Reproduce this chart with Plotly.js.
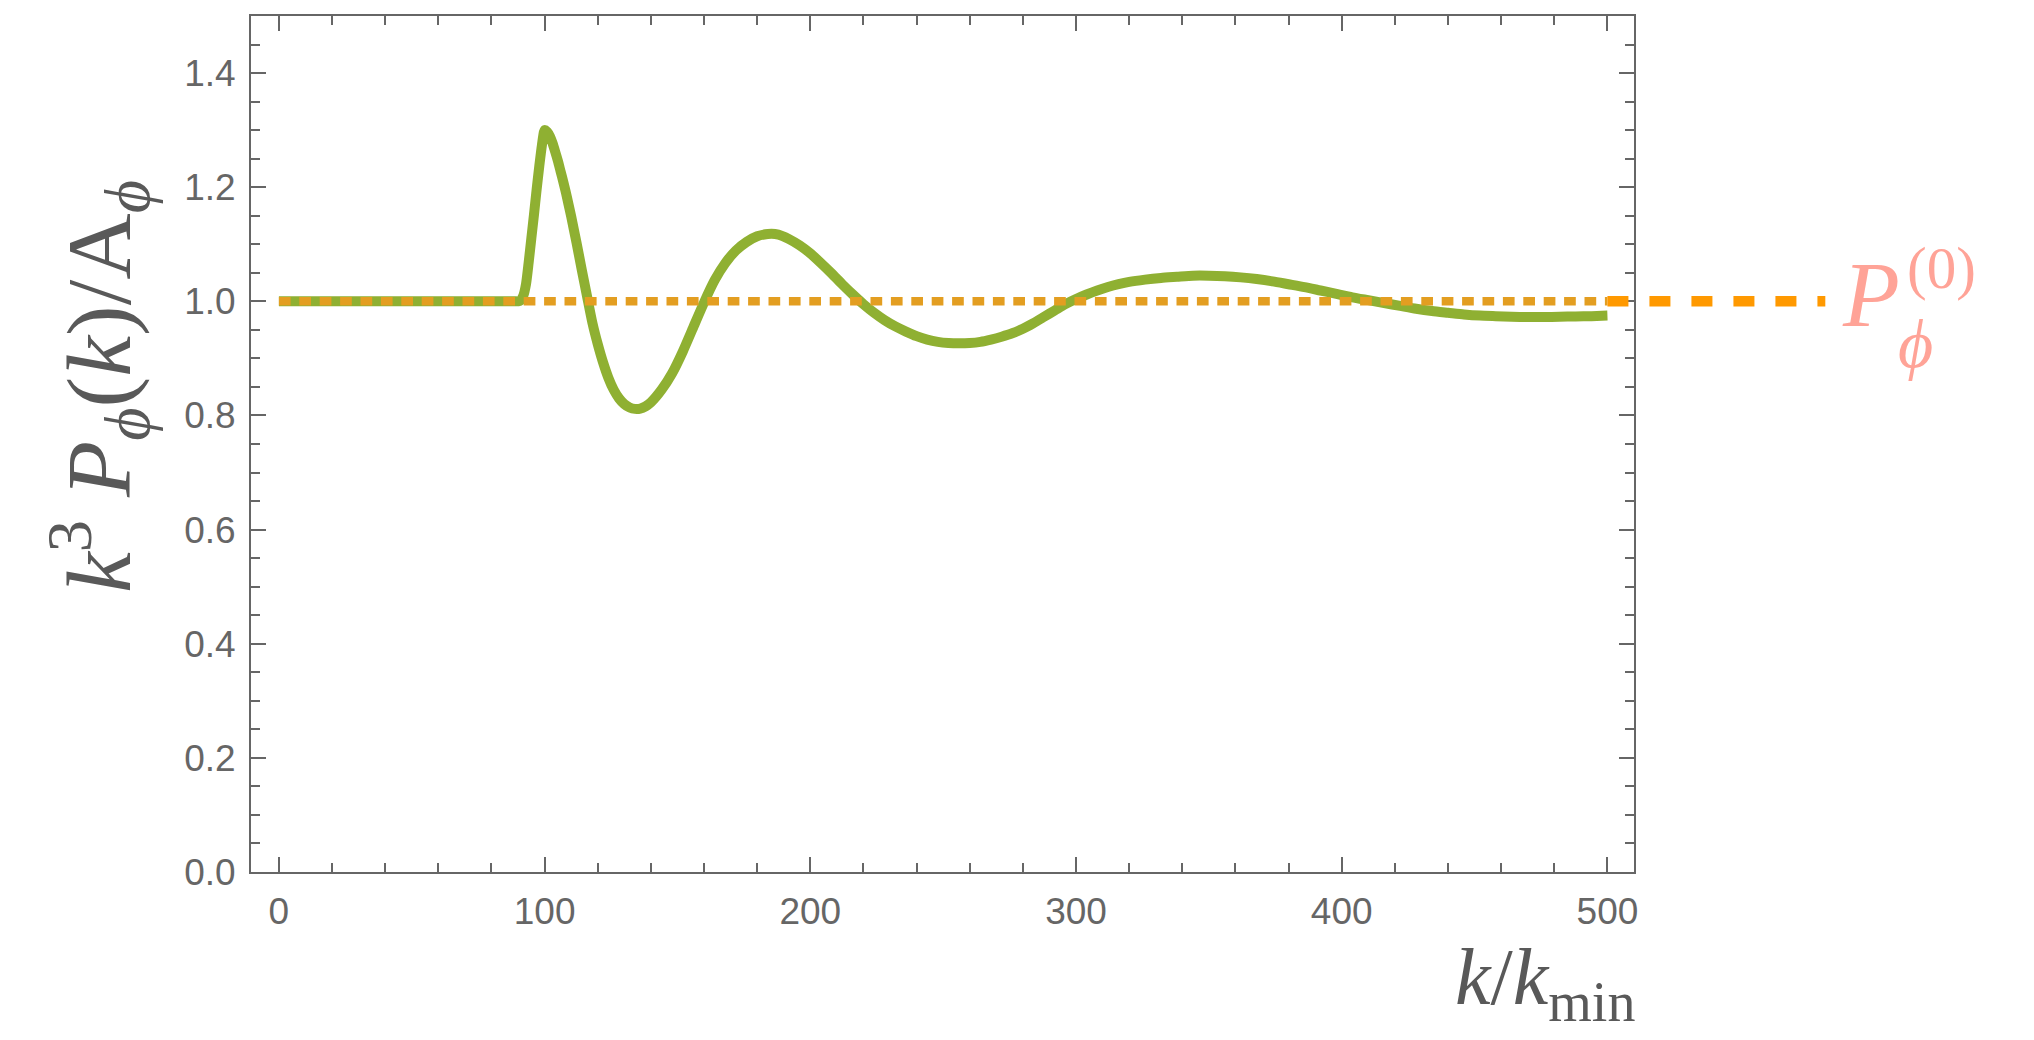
<!DOCTYPE html>
<html>
<head>
<meta charset="utf-8">
<script src="https://cdn.plot.ly/plotly-3.0.1.min.js"></script>
<style>html,body{margin:0;padding:0;background:#fff;}#chart{width:2034px;height:1040px;}</style>
</head>
<body>
<div id="chart"></div>
<script>
// ---- data ----
const kVals = [0, 30, 60, 80, 86, 89, 90, 91, 92, 93, 94, 95, 96, 97, 98, 99, 100,
  101, 102, 103, 104, 105, 106, 107, 108, 109, 110, 111, 112, 114, 116, 118, 120,
  122, 124, 126, 128, 130, 132, 134, 136, 138, 140, 144, 148, 152, 156, 160,
  164, 168, 172, 176, 180, 184, 188, 192, 196, 200, 204, 208, 212, 216, 220,
  224, 228, 232, 236, 240, 244, 248, 252, 256, 260, 264, 268, 272, 276, 280,
  284, 288, 292, 296, 300, 304, 308, 312, 316, 320, 326, 332, 338, 344, 350,
  356, 362, 368, 374, 380, 386, 392, 398, 404, 410, 416, 422, 428, 434, 440,
  446, 452, 458, 464, 470, 476, 482, 488, 494, 500];
const pVals = [1.000, 1.000, 1.000, 1.000, 1.000, 1.000, 1.000, 1.002, 1.010, 1.030, 1.068, 1.110, 1.152, 1.196, 1.237, 1.274, 1.300,
  1.297, 1.289, 1.277, 1.262, 1.246, 1.228, 1.210, 1.191, 1.170, 1.149, 1.126, 1.103, 1.055, 1.008, 0.962, 0.925,
  0.893, 0.866, 0.845, 0.830, 0.820, 0.814, 0.8115, 0.812, 0.816, 0.823, 0.845, 0.874, 0.912, 0.955, 0.998,
  1.037, 1.067, 1.089, 1.104, 1.114, 1.118, 1.117, 1.109, 1.098, 1.084, 1.067, 1.049, 1.030, 1.012, 0.995,
  0.980, 0.967, 0.956, 0.947, 0.939, 0.933, 0.929, 0.927, 0.9265, 0.927, 0.929, 0.933, 0.938, 0.944, 0.952,
  0.962, 0.973, 0.984, 0.995, 1.004, 1.012, 1.019, 1.025, 1.030, 1.034, 1.038, 1.041, 1.043, 1.045, 1.045,
  1.044, 1.042, 1.039, 1.035, 1.030, 1.025, 1.019, 1.013, 1.007, 1.002, 0.997, 0.992, 0.987, 0.983, 0.980,
  0.977, 0.975, 0.974, 0.973, 0.9725, 0.9725, 0.973, 0.9735, 0.974, 0.975];
const refK = [0, 500];      // P_phi^(0) reference level inside the frame
const refP = [1, 1];
const extK = [500, 582];    // its extension out to the label
const extP = [1, 1];
const xTickVals = [0, 100, 200, 300, 400, 500];
const yTickVals = [0.0, 0.2, 0.4, 0.6, 0.8, 1.0, 1.2, 1.4];

// ---- geometry ----
const W = 2034, H = 1040;
const M = {l: 251, r: 194, t: 16, b: 168};
const paperW = W - M.l - M.r, paperH = H - M.t - M.b;
const frameRight = 1634;
const xDomEnd = (frameRight - M.l) / paperW;
const xRange = [-10.5, 510];
const x2Range = [xRange[0], xRange[0] + (xRange[1] - xRange[0]) / xDomEnd];
const px = v => (v - M.l) / paperW;
const py = v => (H - M.b - v) / paperH;

const axisGray = '#666666';
const tickFont = {family: 'Liberation Sans, Arial, sans-serif', size: 37, color: '#666666'};
const titleColor = '#595959';
const serif = 'Liberation Serif, DejaVu Serif, Times New Roman, serif';
const phi = '\u03D5';

const common = {
  showline: true, linecolor: axisGray, linewidth: 2, mirror: 'ticks',
  ticks: 'inside', ticklen: 15, tickwidth: 2, tickcolor: axisGray,
  showgrid: false, zeroline: false, tickfont: tickFont
};

const traces = [
  {x: kVals, y: pVals, type: 'scatter', mode: 'lines', xaxis: 'x', yaxis: 'y',
   line: {color: '#8FB032', width: 10, shape: 'spline', smoothing: 0.6}, hoverinfo: 'skip'},
  {x: refK, y: refP, type: 'scatter', mode: 'lines', xaxis: 'x', yaxis: 'y',
   line: {color: '#E39E21', width: 8.5, dash: '11.7px,8.7px'}, hoverinfo: 'skip'},
  {x: extK, y: extP, type: 'scatter', mode: 'lines', xaxis: 'x2', yaxis: 'y',
   line: {color: '#FF9900', width: 10.5, dash: '21px,21px'}, hoverinfo: 'skip'}
];

const layout = {
  width: W, height: H, margin: M,
  paper_bgcolor: '#ffffff', plot_bgcolor: 'rgba(0,0,0,0)',
  showlegend: false,
  xaxis: Object.assign({}, common, {
    domain: [0, xDomEnd], range: xRange, anchor: 'y',
    tickvals: xTickVals, ticktext: xTickVals.map(String),
    minor: {ticks: 'inside', dtick: 20, tick0: 0, ticklen: 9, tickwidth: 2, tickcolor: axisGray, showgrid: false},
    ticklabelstandoff: 6
  }),
  xaxis2: {domain: [0, 1], range: x2Range, anchor: 'y', visible: false, showgrid: false, zeroline: false},
  yaxis: Object.assign({}, common, {
    domain: [0, 1], range: [0, 1.5], anchor: 'x',
    tickvals: yTickVals, ticktext: yTickVals.map(v => v.toFixed(1)),
    minor: {ticks: 'inside', dtick: 0.05, tick0: 0, ticklen: 9, tickwidth: 2, tickcolor: axisGray, showgrid: false},
    ticklabelstandoff: 6
  }),
  annotations: [
    {xref: 'paper', yref: 'paper', x: px(98), y: py(387), xanchor: 'center', yanchor: 'middle',
     textangle: -90, showarrow: false,
     text: '<i>k</i><sup>3</sup> <i>P</i><sub><i>' + phi + '</i></sub>(<i>k</i>)/A<sub><i>' + phi + '</i></sub>',
     font: {family: serif, size: 92, color: titleColor}},
    {xref: 'paper', yref: 'paper', x: px(1453), y: py(983), xanchor: 'left', yanchor: 'middle',
     showarrow: false, text: '<i>k</i>/<i>k</i><sub>min</sub>',
     font: {family: serif, size: 80, color: titleColor}},
    {xref: 'paper', yref: 'paper', x: px(1840), y: py(294), xanchor: 'left', yanchor: 'middle',
     showarrow: false, text: '<i>P</i>', font: {family: serif, size: 93, color: '#FFA397'}},
    {xref: 'paper', yref: 'paper', x: px(1905), y: py(268), xanchor: 'left', yanchor: 'middle',
     showarrow: false, text: '(0)', font: {family: serif, size: 59, color: '#FFA397'}},
    {xref: 'paper', yref: 'paper', x: px(1896), y: py(344), xanchor: 'left', yanchor: 'middle',
     showarrow: false, text: '<i>' + phi + '</i>', font: {family: serif, size: 68, color: '#FFA397'}}
  ]
};

Plotly.newPlot('chart', traces, layout, {staticPlot: true, displayModeBar: false});
</script>
</body>
</html>
